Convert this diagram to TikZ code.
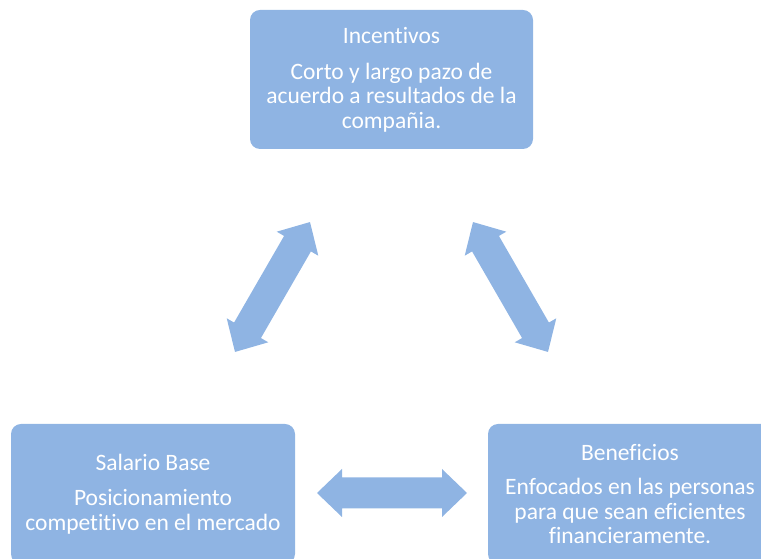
\documentclass[tikz,border=0pt]{standalone}
\usepackage{fontspec}
\setmainfont[Ligatures=NoCommon]{Carlito}
\definecolor{boxblue}{HTML}{8FB4E3}
\tikzset{
  card/.style={fill=boxblue, draw=none, rounded corners=10pt, text=white,
    minimum width=284pt, minimum height=140pt, align=center, inner sep=0pt,
    font=\fontsize{23.5}{24.5}\selectfont},
  blockarrow/.style={fill=boxblue, draw=none}
}
\newcommand\dblblockarrow[3]{%
  \begin{scope}[shift={(#1)},rotate=#2]
    \fill[blockarrow] (-75,0) -- (-50,24) -- (-50,15.5) -- (50,15.5) -- (50,24)
      -- (75,0) -- (50,-24) -- (50,-15.5) -- (-50,-15.5) -- (-50,-24) -- cycle;
    \coordinate (#3) at (0,0);
  \end{scope}}
\begin{document}
\begin{tikzpicture}[x=1pt,y=1pt]
\useasboundingbox (0,0) rectangle (761,559);
\node[card, minimum width=283pt, minimum height=139pt] (inc) at (391.5,479.5)
  {Incentivos\\[11.5pt]Corto y largo pazo de\\acuerdo a resultados de la\\compañia.};
\node[card] (sal) at (153,65)
  {Salario Base\\[11pt]Posicionamiento\\competitivo en el mercado};
\node[card] (ben) at (630,65)
  {Beneficios\\[10pt]Enfocados en las personas\\para que sean eficientes\\financieramente.};
\coordinate (lc) at (272.5,272);
\coordinate (rc) at (510.5,272);
\coordinate (bc) at (392,66);
\dblblockarrow{lc}{60}{arrL}
\dblblockarrow{rc}{-60}{arrR}
\dblblockarrow{bc}{0}{arrB}
\end{tikzpicture}
\end{document}
